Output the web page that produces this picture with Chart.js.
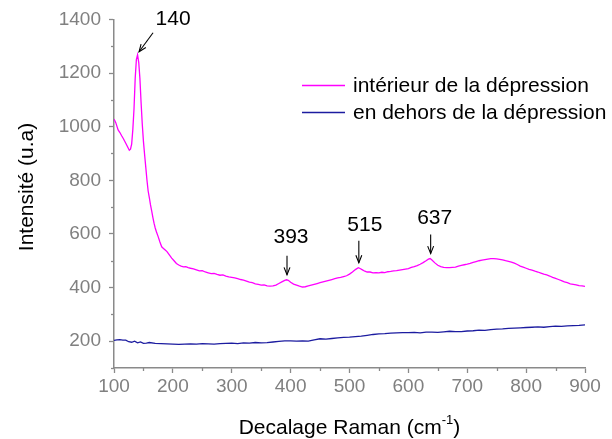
<!DOCTYPE html>
<html>
<head>
<meta charset="utf-8">
<script src="https://cdn.jsdelivr.net/npm/chart.js@4.4.1/dist/chart.umd.min.js"></script>
<style>
  html, body { margin: 0; padding: 0; background: #ffffff; }
  #wrap { width: 612px; height: 439px; position: relative; }
</style>
</head>
<body>
<div id="wrap"><canvas id="raman"></canvas></div>
<script>
// Raman spectra: inside vs outside the depression
const shiftInside = [100,103,107,110,113,116,120,123,126,128,130,132,134,136,138,140,142,144,146,148,150,152,154,156,158,160,162,164,166,168,170,172,175,178,181,184,187,190,194,198,202,206,210,214,218,222,226,230,235,240,245,250,255,260,265,270,275,280,285,290,295,300,305,310,315,320,325,330,335,340,345,350,355,360,365,370,375,380,385,390,393,396,400,405,410,415,420,425,430,435,440,445,450,455,460,465,470,475,480,485,490,495,500,505,510,515,518,522,526,530,535,540,545,550,555,560,565,570,575,580,585,590,595,600,605,610,615,620,625,630,634,637,640,645,650,655,660,665,670,675,680,685,690,695,700,705,710,715,720,725,730,735,740,745,750,755,760,765,770,775,780,785,790,795,800,805,810,815,820,825,830,835,840,845,850,855,860,865,870,875,880,885,890,895,900];
const inside = [1028,1015,988,978,966,955,938,925,912,916,935,990,1067,1180,1250,1268,1240,1180,1090,1010,945,895,848,800,760,735,708,686,662,640,622,608,590,570,552,546,540,534,522,510,500,490,484,480,477,478,474,472,470,466,462,463,458,455,452,453,449,446,447,443,440,438,436,433,430,428,424,420,418,414,412,409,410,406,405,406,409,415,421,427,429,427,420,413,409,405,402,403,406,409,412,415,418,421,424,427,430,433,436,438,441,444,450,458,467,474,471,466,461,458,458,455,456,455,457,456,459,460,462,463,465,467,469,471,475,478,482,487,493,500,506,508,503,492,483,478,475,474,474,475,476,480,483,485,487,490,494,497,500,502,504,506,508,508,507,505,503,500,498,495,491,486,480,476,472,468,465,461,458,454,450,447,443,438,434,430,426,421,418,414,412,410,407,406,404];

const shiftOutside = [100,105,110,115,120,125,130,135,140,145,150,155,160,170,180,190,200,210,220,230,240,250,260,270,280,290,300,310,320,330,340,350,360,370,380,390,400,410,420,430,440,450,460,470,480,490,500,510,520,530,540,550,560,570,580,590,600,610,620,630,640,650,660,670,680,690,700,710,720,730,740,750,760,770,780,790,800,810,820,830,840,850,860,870,880,890,900];
const outside = [203,205,206,204,204,198,196,200,194,197,192,193,195,192,191,190,189,188,189,190,189,191,190,189,191,192,193,191,194,193,195,194,195,197,199,201,201,200,201,200,205,209,208,210,212,214,215,217,219,222,225,227,228,230,231,232,232,233,231,234,234,233,235,237,236,236,238,239,241,240,243,245,246,248,249,250,251,252,253,252,254,256,255,257,258,259,261];

const seriesNames = ['intérieur de la dépression', 'en dehors de la dépression'];
const peakShifts = [140, 393, 515, 637];
const xTitle = 'Decalage Raman (cm';
const xTitleSup = '-1';
const yTitle = 'Intensité (u.a)';

const FONT = '"Liberation Sans", Arial, sans-serif';
const AXIS_GREY = '#8a8a8a';
const TICK_GREY = '#808080';

function toPoints(xs, ys) { return xs.map((x, i) => ({ x: x, y: ys[i] })); }
function valueAt(xs, ys, x) { const i = xs.indexOf(x); return ys[i]; }

// Minor ticks, axis titles, legend and peak annotations
const decorations = {
  id: 'decorations',
  afterDraw(chart) {
    const ctx = chart.ctx;
    const xs = chart.scales.x, ys = chart.scales.y;
    const area = chart.chartArea;
    ctx.save();

    // minor ticks
    ctx.strokeStyle = AXIS_GREY;
    ctx.lineWidth = 1.3;
    for (let v = 150; v < 900; v += 100) {
      const px = Math.round(xs.getPixelForValue(v)) + 0.5;
      ctx.beginPath(); ctx.moveTo(px, area.bottom); ctx.lineTo(px, area.bottom + 3); ctx.stroke();
    }
    for (let v = 100; v < 1400; v += 200) {
      const py = Math.round(ys.getPixelForValue(v)) + 0.5;
      ctx.beginPath(); ctx.moveTo(area.left, py); ctx.lineTo(area.left - 3, py); ctx.stroke();
    }

    // x axis title with superscript
    ctx.fillStyle = '#000000';
    ctx.textBaseline = 'alphabetic';
    ctx.font = '21px ' + FONT;
    const mainW = ctx.measureText(xTitle).width;
    ctx.font = '13px ' + FONT;
    const supW = ctx.measureText(xTitleSup).width;
    ctx.font = '21px ' + FONT;
    const closeW = ctx.measureText(')').width;
    const total = mainW + supW + closeW;
    let tx = (area.left + area.right) / 2 - total / 2;
    const ty = 434;
    ctx.textAlign = 'left';
    ctx.fillText(xTitle, tx, ty);
    ctx.font = '13px ' + FONT;
    ctx.fillText(xTitleSup, tx + mainW, ty - 10);
    ctx.font = '21px ' + FONT;
    ctx.fillText(')', tx + mainW + supW, ty);

    // y axis title
    ctx.save();
    ctx.translate(27, 187);
    ctx.rotate(-Math.PI / 2);
    ctx.textAlign = 'center';
    ctx.textBaseline = 'middle';
    ctx.font = '21px ' + FONT;
    ctx.fillText(yTitle, 0, 0);
    ctx.restore();

    // legend
    const legendRows = [85, 112];
    chart.data.datasets.forEach((ds, i) => {
      const y = legendRows[i];
      ctx.strokeStyle = ds.borderColor;
      ctx.lineWidth = 1.3;
      ctx.beginPath(); ctx.moveTo(302, y + 0.5); ctx.lineTo(345, y + 0.5); ctx.stroke();
      ctx.fillStyle = '#000000';
      ctx.font = '21px ' + FONT;
      ctx.textAlign = 'left';
      ctx.textBaseline = 'middle';
      ctx.fillText(ds.label, 353, y + 1);
    });

    // peak annotations
    const layouts = [
      { dx: 14, dy: -19, tx: 20, ty: -14 },
      { dx: 0, dy: -19, tx: 4, ty: -19 },
      { dx: 0, dy: -22, tx: 6, ty: -16 },
      { dx: 0, dy: -19, tx: 4, ty: -16 }
    ];
    peakShifts.forEach((p, i) => {
      const L = layouts[i];
      const px = xs.getPixelForValue(p);
      const py = ys.getPixelForValue(valueAt(shiftInside, inside, p));
      const tipX = px + (i === 0 ? 1.5 : 0.5);
      const tipY = py - (i === 0 ? 3 : 5);
      const sx = tipX + L.dx, sy = tipY + L.dy;
      ctx.strokeStyle = '#000000';
      ctx.lineWidth = 1.1;
      ctx.beginPath(); ctx.moveTo(sx, sy); ctx.lineTo(tipX, tipY); ctx.stroke();
      const ang = Math.atan2(tipY - sy, tipX - sx);
      const head = 8, spread = 0.38;
      ctx.beginPath();
      ctx.moveTo(tipX - head * Math.cos(ang - spread), tipY - head * Math.sin(ang - spread));
      ctx.lineTo(tipX, tipY);
      ctx.lineTo(tipX - head * Math.cos(ang + spread), tipY - head * Math.sin(ang + spread));
      ctx.stroke();
      ctx.fillStyle = '#000000';
      ctx.font = '21px ' + FONT;
      ctx.textAlign = 'center';
      ctx.textBaseline = 'middle';
      ctx.fillText(String(p), sx + L.tx, sy + L.ty);
    });

    ctx.restore();
  }
};

new Chart(document.getElementById('raman'), {
  type: 'line',
  data: {
    datasets: [
      { label: seriesNames[0], data: toPoints(shiftInside, inside), borderColor: '#ff00ff', borderWidth: 1.3, pointRadius: 0, tension: 0, fill: false },
      { label: seriesNames[1], data: toPoints(shiftOutside, outside), borderColor: '#1c1ca0', borderWidth: 1.3, pointRadius: 0, tension: 0, fill: false }
    ]
  },
  options: {
    responsive: true,
    maintainAspectRatio: false,
    animation: false,
    events: [],
    layout: { padding: { top: 17, right: 27, left: 0, bottom: 0 } },
    plugins: { legend: { display: false }, tooltip: { enabled: false } },
    scales: {
      x: {
        type: 'linear',
        min: 100, max: 900,
        border: { display: true, color: AXIS_GREY, width: 1.5 },
        grid: { display: true, drawOnChartArea: false, drawTicks: true, tickLength: 5, color: AXIS_GREY, tickWidth: 1.3 },
        ticks: { stepSize: 100, color: TICK_GREY, font: { family: FONT, size: 19 }, padding: 2, maxRotation: 0, callback: v => String(v) },
        afterFit(s) { s.height = 71; }
      },
      y: {
        min: 100, max: 1400,
        afterBuildTicks(s) { s.ticks = s.ticks.filter(t => t.value % 200 === 0); },
        border: { display: true, color: AXIS_GREY, width: 1.5 },
        grid: { display: true, drawOnChartArea: false, drawTicks: true, tickLength: 5, color: AXIS_GREY, tickWidth: 1.3 },
        ticks: { stepSize: 100, color: TICK_GREY, font: { family: FONT, size: 19 }, padding: 8, callback: v => String(v) },
        afterFit(s) { s.width = 114; }
      }
    }
  },
  plugins: [decorations]
});
</script>
</body>
</html>
